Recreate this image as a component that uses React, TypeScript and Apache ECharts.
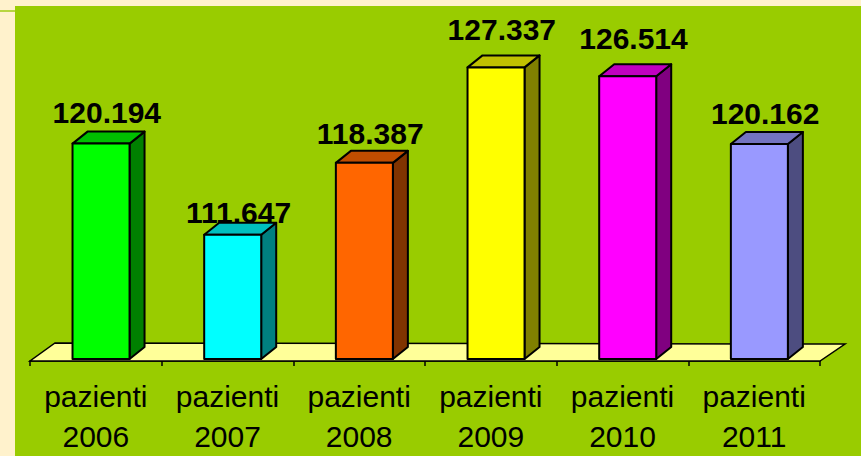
import React, { useEffect, useRef } from "react";
import * as echarts from "echarts";

const years = ["2006", "2007", "2008", "2009", "2010", "2011"];
const categoryLabels = years.map((y) => "pazienti\n" + y);
const values = [120.194, 111.647, 118.387, 127.337, 126.514, 120.162];
const valueLabels = ["120.194", "111.647", "118.387", "127.337", "126.514", "120.162"];
const frontColors = ["#00FF00", "#00FFFF", "#FF6600", "#FFFF00", "#FF00FF", "#9999FF"];
const sideColors = ["#008000", "#008080", "#803300", "#808000", "#800080", "#4D4D80"];
const topColors = ["#00C000", "#00C0C0", "#C04D00", "#C0C000", "#C000C0", "#7373C0"];

const FONT = "'Liberation Sans', Arial, sans-serif";

export default function App() {
  const ref = useRef<HTMLDivElement>(null);
  useEffect(() => {
    if (!ref.current) return;
    const chart = echarts.init(ref.current, undefined, { renderer: "svg" });
    const option: any = {
      animation: false,
      backgroundColor: "#FFF2CC",
      graphic: [
        { type: "rect", z: -10, shape: { x: 15, y: 6, width: 846, height: 450 }, style: { fill: "#99CC00" } },
        { type: "line", z: -10, shape: { x1: 0, y1: 11, x2: 15, y2: 11 }, style: { stroke: "#B8D640", lineWidth: 2 } },
      ],
      grid: { left: 30, right: 41, top: 39, bottom: 94 },
      xAxis: {
        type: "category",
        data: categoryLabels,
        offset: 2,
        axisLine: { show: true, lineStyle: { color: "#000", width: 1.5 } },
        axisTick: { show: true, length: 5, lineStyle: { color: "#000", width: 1.5 } },
        axisLabel: {
          interval: 0,
          color: "#000",
          fontSize: 30,
          lineHeight: 40,
          margin: 15,
          fontFamily: FONT,
        },
      },
      yAxis: { type: "value", min: 100, max: 130, show: false, splitLine: { show: false } },
      series: [
        {
          type: "custom",
          z: 1,
          data: [[0, 100]],
          renderItem: (params: any, api: any) => {
            const cs = params.coordSys;
            const fy = cs.y + cs.height + 2;
            const x0 = cs.x;
            const x1 = cs.x + cs.width;
            return {
              type: "polygon",
              shape: { points: [[x0, fy], [x1, fy], [x1 + 25, fy - 17], [x0 + 25, fy - 18]] },
              style: { fill: "#FFFF99", stroke: "#000", lineWidth: 1.5 },
            };
          },
        },
        {
          type: "custom",
          z: 2,
          data: values.map((v, i) => [i, v]),
          renderItem: (params: any, api: any) => {
            const i = api.value(0);
            const v = api.value(1);
            const top = api.coord([i, v]);
            const base = api.coord([i, 100]);
            const bw = api.size([1, 0])[0];
            const cx = top[0];
            const fl = cx - 0.177 * bw;
            const fr = fl + 0.433 * bw;
            const ty = top[1];
            const by = base[1];
            const dx = 15;
            const dy = 12;
            const h = by - ty;
            const baseline = ty - 0.095 * h;
            const stroke = { stroke: "#000", lineWidth: 2, lineJoin: "round" };
            return {
              type: "group",
              children: [
                {
                  type: "polygon",
                  shape: { points: [[fr, ty], [fr + dx, ty - dy], [fr + dx, by - dy], [fr, by]] },
                  style: { fill: sideColors[i], ...stroke },
                },
                {
                  type: "polygon",
                  shape: { points: [[fl, ty], [fl + dx, ty - dy], [fr + dx, ty - dy], [fr, ty]] },
                  style: { fill: topColors[i], ...stroke },
                },
                {
                  type: "rect",
                  shape: { x: fl, y: ty, width: fr - fl, height: by - ty },
                  style: { fill: frontColors[i], ...stroke },
                },
                {
                  type: "text",
                  x: cx + 11,
                  y: baseline - 10.5,
                  style: {
                    text: valueLabels[i],
                    fill: "#000",
                    font: `bold 30px ${FONT}`,
                    align: "center",
                    verticalAlign: "middle",
                  },
                },
              ],
            };
          },
        },
      ],
    };
    chart.setOption(option);
    return () => chart.dispose();
  }, []);
  return <div ref={ref} style={{ position: "fixed", left: 0, top: 0, width: 861, height: 456 }} />;
}
